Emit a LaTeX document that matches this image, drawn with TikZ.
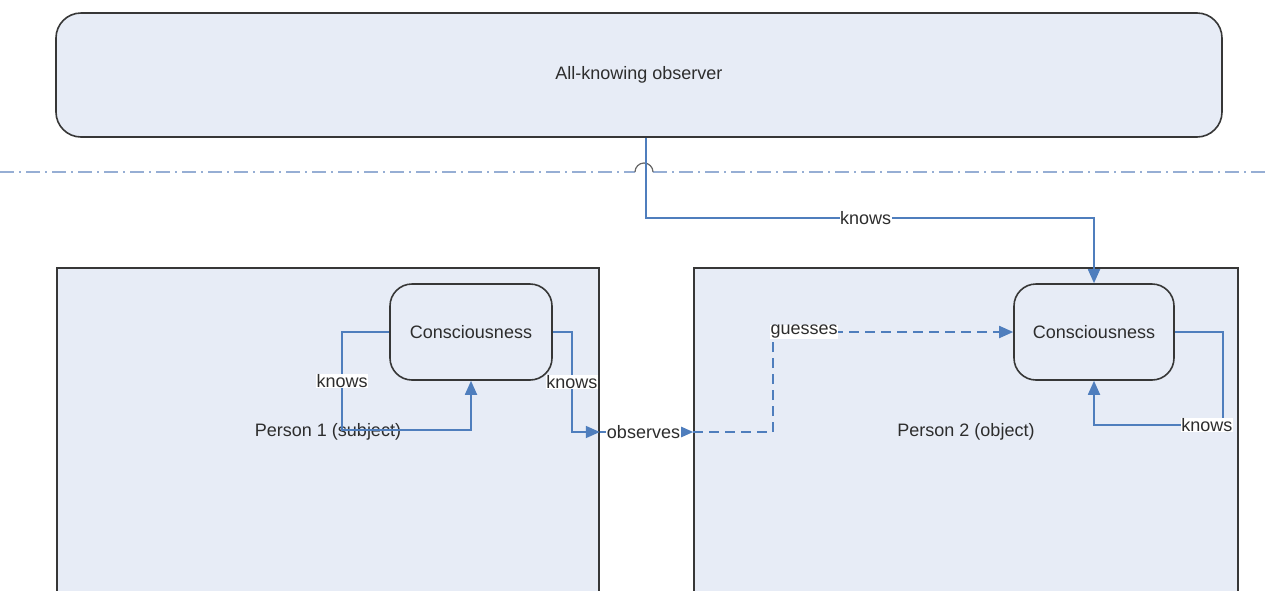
\documentclass[tikz,border=0pt]{standalone}
\usepackage{fontspec}
\setmainfont{Liberation Sans}
\usetikzlibrary{arrows.meta}
\definecolor{boxfill}{RGB}{231,236,246}
\definecolor{boxline}{RGB}{55,55,55}
\definecolor{conblue}{RGB}{79,126,189}
\definecolor{dashblue}{RGB}{150,174,212}
\definecolor{txt}{RGB}{45,45,45}
\begin{document}
\begin{tikzpicture}[x=1pt,y=1pt,
  every node/.style={font=\fontsize{18}{21}\selectfont, text=txt},
  boxnode/.style={draw=boxline, fill=boxfill, line width=1.6pt, inner sep=0pt},
  conn/.style={draw=conblue, line width=1.8pt},
  arr/.style={-{Triangle[length=14pt,width=12pt]}},
  lbl/.style={fill=white, inner sep=0.5pt},
  sep/.style={draw=dashblue, line width=2.8pt, dash pattern=on 14pt off 5pt on 2pt off 5pt}
]
\useasboundingbox (0,0) rectangle (1270,-590);
\clip (0,0) rectangle (1270,-590);
\fill[white] (0,0) rectangle (1270,-590);

% separator line with hop
\coordinate (dl) at (0,-172);
\coordinate (hl) at (635,-172);
\coordinate (hr) at (653,-172);
\coordinate (dr) at (1270,-172);
\draw[sep] (dl) -- (hl);
\draw[sep] (hr) -- (dr);
\draw[draw=black!60, line width=1.2pt] (hl) arc[start angle=180, end angle=0, radius=9pt];

% shapes
\node[boxnode, rounded corners=25pt, minimum width=1166pt, minimum height=124pt] (obs) at (639,-75) {All-knowing observer};
\node[boxnode, minimum width=542pt, minimum height=328pt] (p1) at (328,-432) {Person 1 (subject)};
\node[boxnode, minimum width=544pt, minimum height=328pt] (p2) at (966,-432) {Person 2 (object)};
\node[boxnode, rounded corners=22pt, minimum width=162pt, minimum height=96pt] (c1) at (471,-332) {Consciousness};
\node[boxnode, rounded corners=22pt, minimum width=160pt, minimum height=96pt] (c2) at (1094,-332) {Consciousness};

% connectors
\draw[conn, arr] ([xshift=7pt]obs.south) -- ++(0,-80) -| node[pos=0.245, lbl]{knows} (c2.north);
\draw[conn, arr] (c1.west) -- ++(-47,0) -- node[lbl]{knows} ++(0,-98) -| (c1.south);
\draw[conn, arr] (c1.east) -- ++(19,0) |- node[pos=0.25, lbl]{knows} (p1.east);
\draw[conn, arr] (p1.east) -- node[lbl, xshift=-3pt]{observes} (p2.west);
\draw[conn, arr, dash pattern=on 10pt off 6pt] (p2.west) -- ++(80,0) |- node[pos=0.5, anchor=west, xshift=-4pt, lbl]{guesses} (c2.west);
\draw[conn, arr] (c2.east) -- ++(48,0) -- ++(0,-93) node[lbl, xshift=-16pt]{knows} -| (c2.south);
\end{tikzpicture}
\end{document}
